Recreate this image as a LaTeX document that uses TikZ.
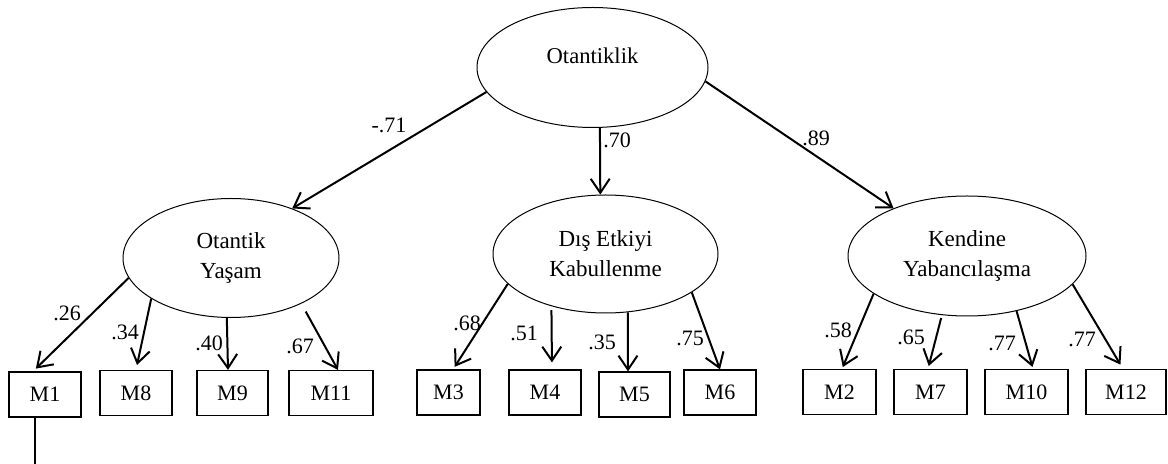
\documentclass[tikz,border=0pt]{standalone}
\usepackage{fontspec}
\setmainfont{Liberation Serif}
\usetikzlibrary{shapes.geometric,arrows.meta}
\begin{document}
\begin{tikzpicture}[x=0.5pt,y=-0.5pt,
  font=\fontsize{11}{15}\selectfont,
  latent/.style={draw, ellipse, line width=0.5pt, inner sep=0pt, align=center, font=\fontsize{11.5}{15}\selectfont},
  obs/.style={draw, rectangle, line width=0.6pt, inner sep=0pt, minimum height=22.5pt},
  load/.style={line width=1pt, -{Straight Barb[length=7pt,width=9.5pt]}},
  coef/.style={inner sep=0pt}
]
\useasboundingbox (0,0) rectangle (1168,464);

% latent variables
\node[latent, minimum width=115.5pt, minimum height=60pt] (T) at (592.5,67.5) {};
\node[font=\fontsize{11.3}{15}\selectfont] (Ttext) at ([yshift=5.85pt]T.center) {Otantiklik};
\node[latent, minimum width=108pt, minimum height=59.5pt] (OY) at (231,258) {Otantik\\Yaşam};
\node[latent, minimum width=112.5pt, minimum height=59pt] (DE) at (605.5,254) {Dış Etkiyi\\Kabullenme};
\node[latent, minimum width=119pt, minimum height=60pt] (KY) at (967,256) {Kendine\\Yabancılaşma};

% observed variables
\node[obs, minimum width=36pt]   (M1)  at (45,394.5)   {M1};
\node[obs, minimum width=36pt]   (M8)  at (136,393)    {M8};
\node[obs, minimum width=35.5pt] (M9)  at (232.5,393)  {M9};
\node[obs, minimum width=42pt]   (M11) at (331,393)    {M11};
\node[obs, minimum width=31.5pt] (M3)  at (448.5,392.5) {M3};
\node[obs, minimum width=36pt]   (M4)  at (545,392.5)  {M4};
\node[obs, minimum width=35.5pt] (M5)  at (634.5,394.5) {M5};
\node[obs, minimum width=36pt]   (M6)  at (720,392.5)  {M6};
\node[obs, minimum width=36.5pt] (M2)  at (839.5,392)  {M2};
\node[obs, minimum width=36.5pt] (M7)  at (930.5,392)  {M7};
\node[obs, minimum width=41.5pt] (M10) at (1026.5,392) {M10};
\node[obs, minimum width=40pt]   (M12) at (1126,392)   {M12};

% second-order paths
\draw[load] (T.193.7) -- (OY.39.9);
\draw[load] (T.277.2) -- (DE.95.3);
\draw[load] (T.353.9) -- (KY.147.6);

% first-order loadings
\draw[load, shorten >=2pt]   (OY.191.5) -- ([xshift=-6pt]M1.north);
\draw[load, shorten >=2.5pt] (OY.207.1) -- (M8.north);
\draw[load]                  (OY.266.9) -- ([xshift=-2.25pt]M9.north);
\draw[load, shorten <=4.5pt] (OY.327.1) -- ([xshift=3.5pt]M11.north);

\draw[load, shorten >=1.5pt] (DE.197.6) -- ([xshift=2.25pt]M3.north);
\draw[load, shorten <=2pt, shorten >=3.5pt] (DE.224.1) -- ([xshift=3.5pt]M4.north);
\draw[load]                  (DE.291.3) -- ([xshift=-3.25pt]M5.north);
\draw[load]                  (DE.336.5) -- (M6.north);

\draw[load, shorten >=1pt]   (KY.202.4) -- ([xshift=1.25pt]M2.north);
\draw[load, shorten <=1.5pt, shorten >=1.5pt] (KY.247.8) -- ([xshift=-1.25pt]M7.north);
\draw[load, shorten >=1pt]   (KY.312.8) -- ([xshift=3.25pt]M10.north);
\draw[load, shorten >=2.5pt] (KY.345.7) -- ([xshift=-1.5pt]M12.north);

% tail below M1
\coordinate (tail) at (35,464);
\draw[line width=1pt] (tail |- M1.south) -- (tail);

% coefficients
\node[coef] (c1)  at (389,125)  {-.71};
\node[coef] (c2)  at (617,140)  {.70};
\node[coef] (c3)  at (816,138)  {.89};
\node[coef] (c4)  at (67,313)   {.26};
\node[coef] (c5)  at (125,332)  {.34};
\node[coef] (c6)  at (209,343)  {.40};
\node[coef] (c7)  at (300,346)  {.67};
\node[coef] (c8)  at (467,323)  {.68};
\node[coef] (c9)  at (524,333)  {.51};
\node[coef] (c10) at (602,342)  {.35};
\node[coef] (c11) at (690,338)  {.75};
\node[coef] (c12) at (838,330)  {.58};
\node[coef] (c13) at (911,337)  {.65};
\node[coef] (c14) at (1002,343) {.77};
\node[coef] (c15) at (1082,339) {.77};
\end{tikzpicture}
\end{document}
